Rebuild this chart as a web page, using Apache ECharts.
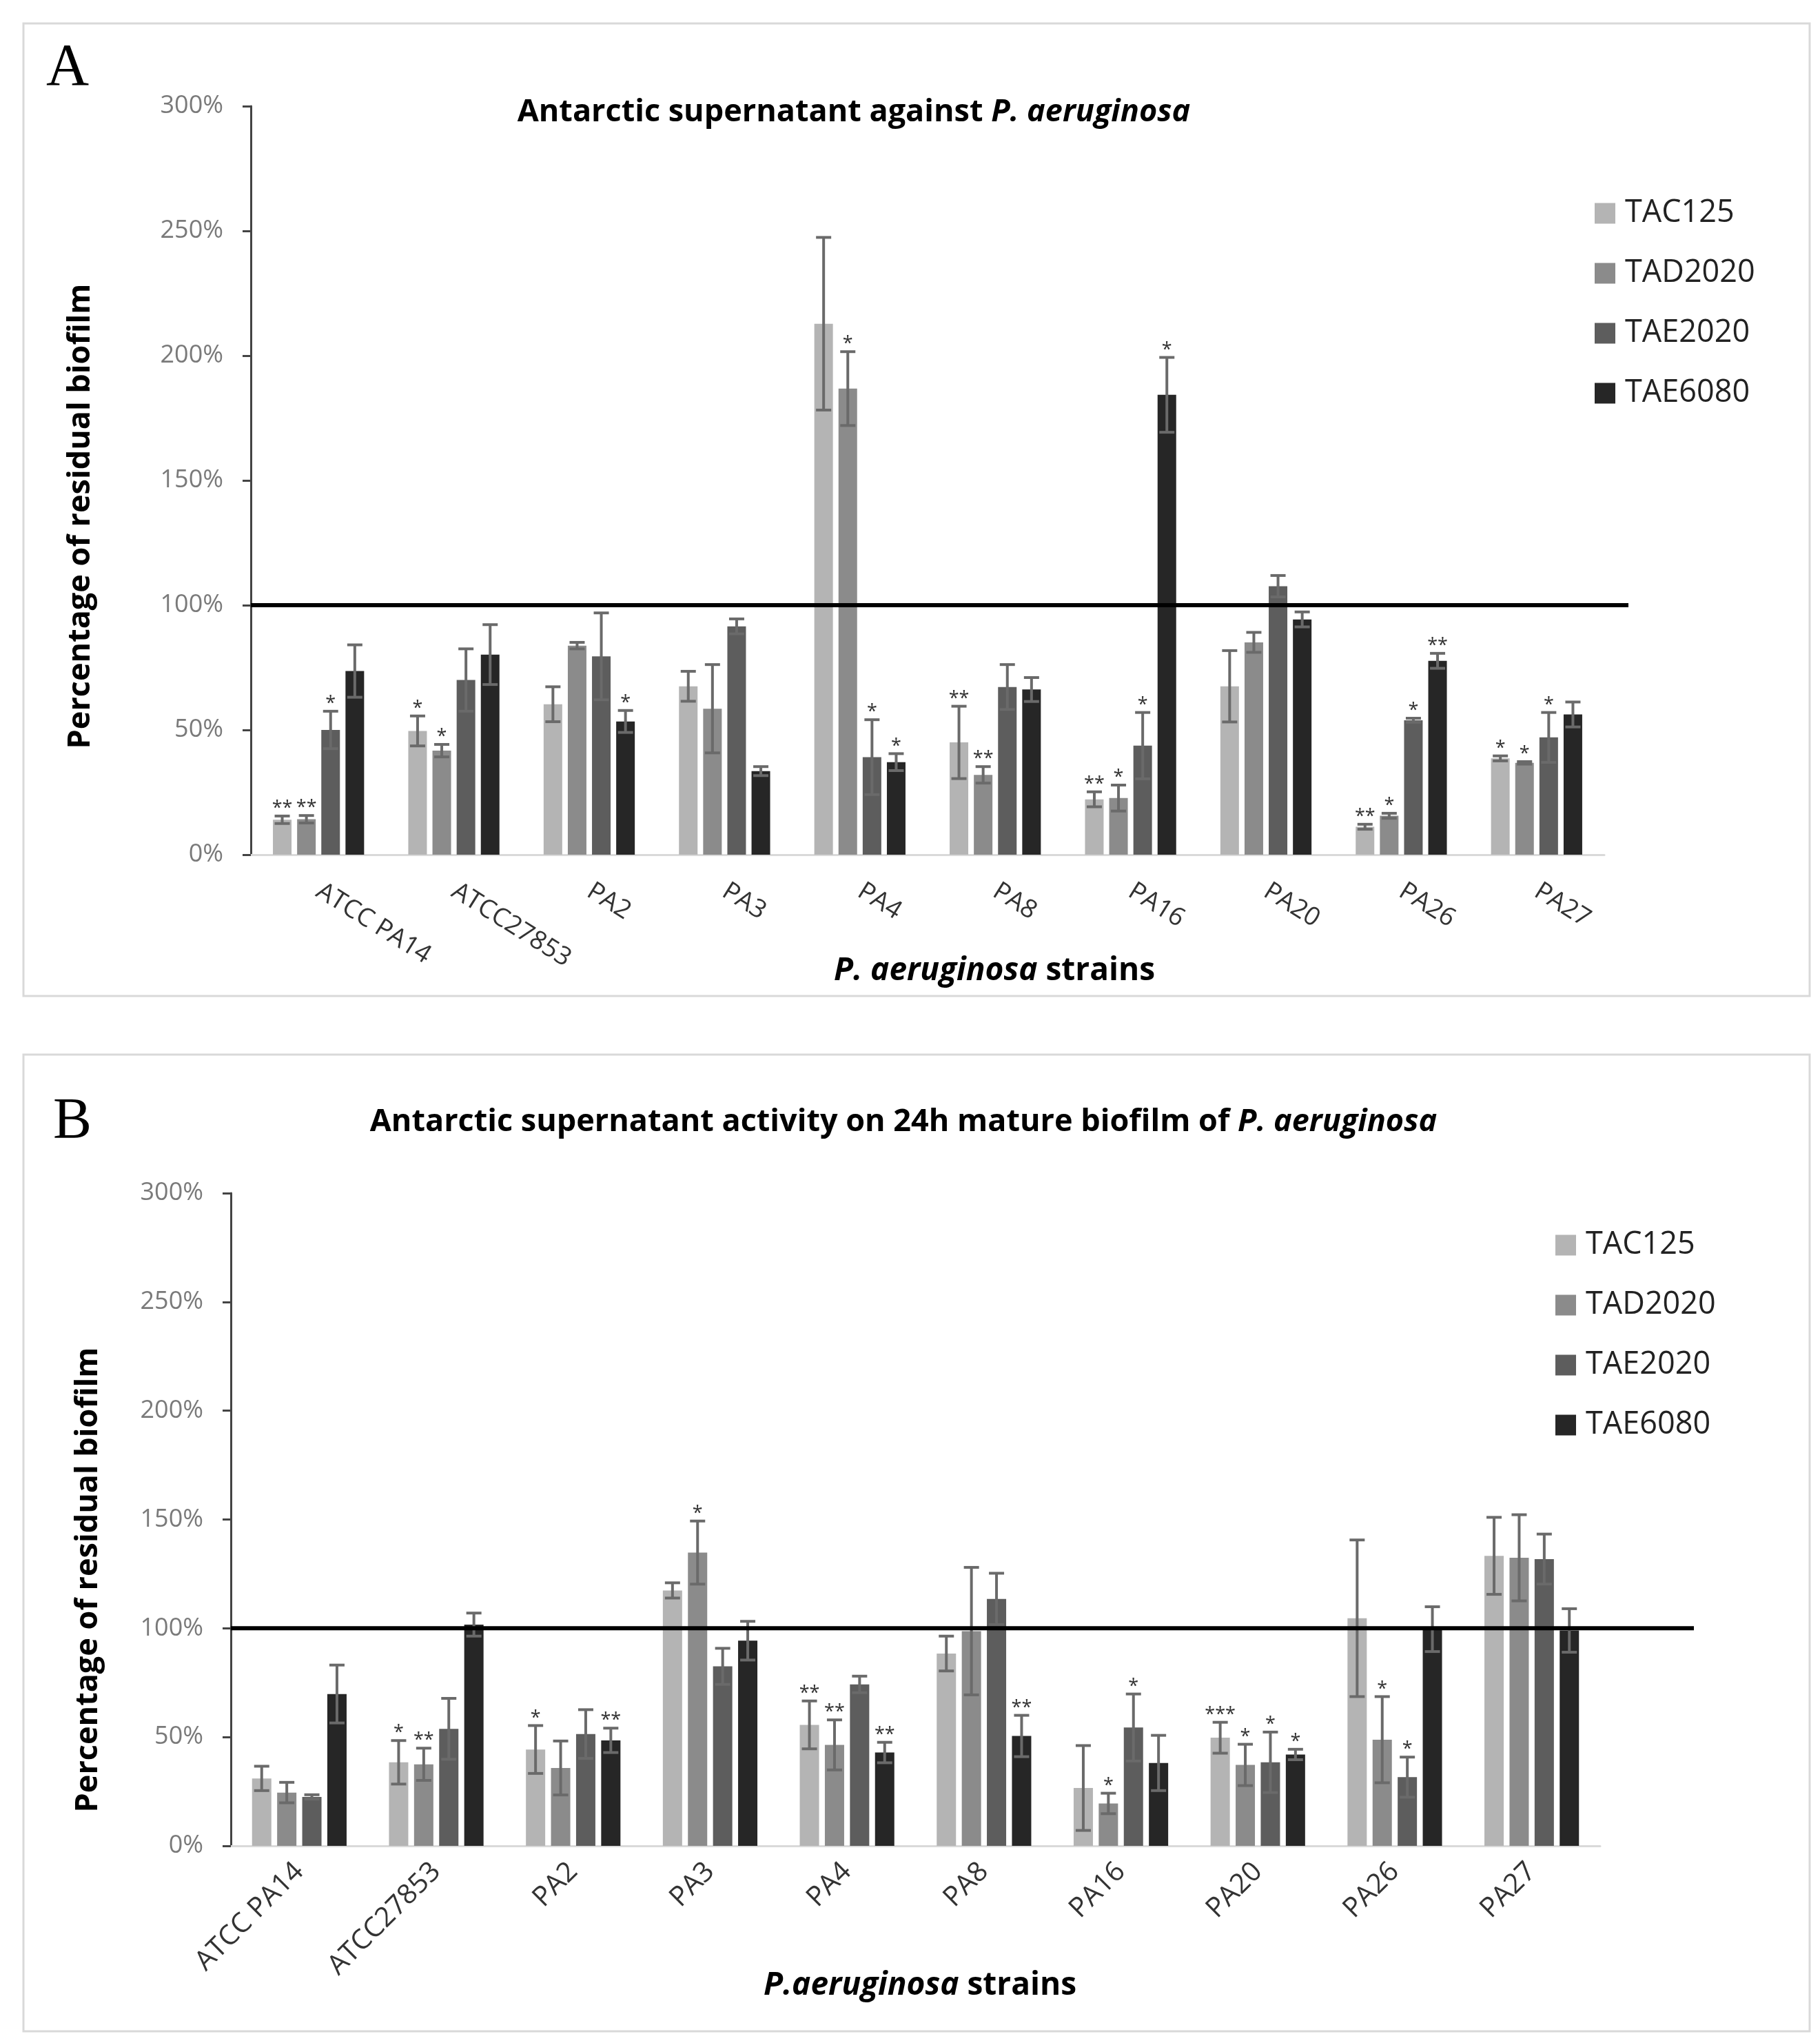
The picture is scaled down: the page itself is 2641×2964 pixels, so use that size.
<!DOCTYPE html>
<html><head><meta charset="utf-8">
<script src="https://cdn.jsdelivr.net/npm/echarts@6/dist/echarts.min.js"></script>
<style>html,body{margin:0;padding:0;background:#fff}#c{width:2641px;height:2964px}</style>
</head><body><div id="c"></div><script>
const categories = ['ATCC PA14','ATCC27853','PA2','PA3','PA4','PA8','PA16','PA20','PA26','PA27'];
const seriesNames = ['TAC125','TAD2020','TAE2020','TAE6080'];
const yTicks = [0,50,100,150,200,250,300];
const refValue = 100;

// Panel A: biofilm formation
const aTAC125    = [14.0, 49.6, 60.3, 67.5, 212.8, 45.0, 22.2, 67.5, 11.2, 38.6];
const aTAC125Err = [1.5, 6.0, 7.0, 6.0, 34.6, 14.5, 3.0, 14.3, 1.0, 1.0];
const aTAC125Sig = ['**','*','','','','**','**','','**','*'];
const aTAD2020    = [14.2, 41.7, 83.8, 58.5, 186.8, 32.0, 22.7, 85.1, 15.6, 36.8];
const aTAD2020Err = [1.5, 2.5, 1.3, 17.7, 14.8, 3.3, 5.2, 4.0, 1.0, 0.5];
const aTAD2020Sig = ['**','*','','','*','**','*','','*','*'];
const aTAE2020    = [50.0, 70.0, 79.5, 91.5, 39.1, 67.2, 43.7, 107.6, 53.9, 47.0];
const aTAE2020Err = [7.5, 12.5, 17.4, 3.0, 15.0, 9.0, 13.3, 4.3, 0.8, 10.0];
const aTAE2020Sig = ['*','','','','*','','*','','*','*'];
const aTAE6080    = [73.6, 80.2, 53.4, 33.5, 37.1, 66.2, 184.3, 94.3, 77.7, 56.2];
const aTAE6080Err = [10.5, 12.0, 4.4, 1.8, 3.4, 4.8, 15.0, 3.0, 3.0, 5.0];
const aTAE6080Sig = ['','','*','','*','','*','','**',''];

// Panel B: mature biofilm
const bTAC125    = [31.0, 38.4, 44.3, 117.4, 55.6, 88.4, 26.6, 49.7, 104.6, 133.3];
const bTAC125Err = [5.6, 10.0, 11.0, 3.5, 11.0, 8.0, 19.5, 7.1, 36.0, 17.7];
const bTAC125Sig = ['','*','*','','**','','','***','',''];
const bTAD2020    = [24.5, 37.5, 35.8, 134.8, 46.4, 98.7, 19.5, 37.2, 48.8, 132.4];
const bTAD2020Err = [4.7, 7.4, 12.4, 14.5, 11.5, 29.3, 4.7, 9.5, 19.8, 19.8];
const bTAD2020Sig = ['','**','','*','**','','*','*','*',''];
const bTAE2020    = [22.5, 53.8, 51.4, 82.5, 74.2, 113.5, 54.4, 38.4, 31.6, 131.8];
const bTAE2020Err = [1.0, 14.0, 11.2, 8.3, 3.8, 11.8, 15.4, 13.9, 9.2, 11.5];
const bTAE2020Sig = ['','','','','','','*','*','*',''];
const bTAE6080    = [69.8, 101.7, 48.5, 94.3, 42.9, 50.5, 38.1, 42.0, 99.6, 99.0];
const bTAE6080Err = [13.3, 5.3, 5.6, 8.9, 4.7, 9.5, 12.7, 2.4, 10.3, 10.0];
const bTAE6080Sig = ['','','**','','**','**','','*','',''];

const panelA = {vals:[aTAC125,aTAD2020,aTAE2020,aTAE6080], errs:[aTAC125Err,aTAD2020Err,aTAE2020Err,aTAE6080Err], sigs:[aTAC125Sig,aTAD2020Sig,aTAE2020Sig,aTAE6080Sig]};
const panelB = {vals:[bTAC125,bTAD2020,bTAE2020,bTAE6080], errs:[bTAC125Err,bTAD2020Err,bTAE2020Err,bTAE6080Err], sigs:[bTAC125Sig,bTAD2020Sig,bTAE2020Sig,bTAE6080Sig]};

const colors = ['#b4b4b4','#8b8b8b','#5d5d5d','#262626'];
const FONT = 'Open Sans';
const errColor = '#6a6a6a';

function buildPanel(p, axisIdx, refAxisIdx, barW) {
  const gap = barW * 0.3;
  const total = 4 * barW + 3 * gap;
  const out = [];
  p.vals.forEach((vals, si) => {
    out.push({
      name: seriesNames[si], type: 'bar', xAxisIndex: axisIdx, yAxisIndex: axisIdx,
      data: vals, barWidth: barW, barGap: '30%',
      itemStyle: {color: colors[si]}, z: 2
    });
  });
  p.vals.forEach((vals, si) => {
    const errs = p.errs[si], sigs = p.sigs[si];
    const offset = -total / 2 + barW / 2 + si * (barW + gap);
    out.push({
      name: 'err' + axisIdx + '_' + si, type: 'custom', xAxisIndex: axisIdx, yAxisIndex: axisIdx, z: 4,
      data: vals.map((v, i) => [i, v, errs[i]]),
      renderItem: function (params, api) {
        const c = api.value(0), v = api.value(1), e = api.value(2);
        const x = api.coord([c, v])[0] + offset;
        const yT = api.coord([c, v + e])[1];
        const yB = api.coord([c, Math.max(0, v - e)])[1];
        const cap = 11;
        const st = {stroke: errColor, lineWidth: 4};
        const ch = [
          {type: 'line', shape: {x1: x, y1: yT, x2: x, y2: yB}, style: st},
          {type: 'line', shape: {x1: x - cap, y1: yT, x2: x + cap, y2: yT}, style: st},
          {type: 'line', shape: {x1: x - cap, y1: yB, x2: x + cap, y2: yB}, style: st}
        ];
        const s = sigs[params.dataIndex];
        if (s) ch.push({type: 'text', style: {text: s, x: x, y: yT + 3, align: 'center', verticalAlign: 'bottom', fontSize: 27, fontFamily: FONT, fill: '#333'}});
        return {type: 'group', children: ch};
      }
    });
  });
  out.push({
    name: 'ref' + axisIdx, type: 'line', xAxisIndex: refAxisIdx, yAxisIndex: refAxisIdx, z: 6,
    data: [[0, refValue], [1, refValue]], symbol: 'none', silent: true,
    lineStyle: {color: '#000', width: 6}
  });
  return out;
}

const catAxis = (gridIndex, rotate, margin, fs) => ({
  type: 'category', gridIndex, data: categories,
  axisLine: {lineStyle: {color: '#d9d9d9', width: 3}},
  axisTick: {show: false},
  axisLabel: {interval: 0, rotate, margin, fontSize: fs, fontFamily: FONT, color: '#333'}
});
const valAxis = (gridIndex) => ({
  type: 'value', gridIndex, min: yTicks[0], max: yTicks[yTicks.length - 1], interval: yTicks[1] - yTicks[0],
  axisLine: {show: true, lineStyle: {color: '#444', width: 3}},
  axisTick: {show: true, length: 12, lineStyle: {color: '#444', width: 3}},
  splitLine: {show: false},
  axisLabel: {formatter: '{value}%', fontSize: 36, fontFamily: FONT, color: '#7a7a7a', margin: 40}
});
const hiddenX = (gridIndex) => ({type: 'value', gridIndex, min: 0, max: 1, show: false});
const hiddenY = (gridIndex) => ({type: 'value', gridIndex, min: yTicks[0], max: yTicks[yTicks.length - 1], show: false});

const legendBase = (left, top) => ({
  data: seriesNames, orient: 'vertical', left, top, icon: 'rect',
  itemWidth: 30, itemHeight: 30, itemGap: 42, selectedMode: false,
  textStyle: {fontSize: 45, fontFamily: FONT, color: '#222', padding: [0, 0, 0, 9]}
});
const boldTitle = (text, left, top, fs) => ({
  text, left, top, textAlign: 'center',
  textStyle: {fontSize: fs, fontWeight: 'bold', fontFamily: FONT, color: '#000',
    rich: {i: {fontSize: fs, fontWeight: 'bold', fontStyle: 'italic', fontFamily: FONT, color: '#000'}}}
});
const yName = (x, y) => ({
  type: 'text', x, y, rotation: Math.PI / 2,
  style: {text: 'Percentage of residual biofilm', align: 'center', verticalAlign: 'middle', fontSize: 45, fontWeight: 'bold', fontFamily: FONT, fill: '#000'}
});

const option = {
  backgroundColor: '#fff',
  animation: false,
  title: [
    {text: 'A', left: 62, top: 52, textStyle: {fontSize: 86, fontFamily: 'Liberation Serif', fontWeight: 'normal', color: '#000'}},
    {text: 'B', left: 72, top: 1582, textStyle: {fontSize: 84, fontFamily: 'Liberation Serif', fontWeight: 'normal', color: '#000'}},
    boldTitle('Antarctic supernatant against {i|P. aeruginosa}', 1234, 136, 45),
    boldTitle('Antarctic supernatant activity on 24h mature biofilm of {i|P. aeruginosa}', 1306, 1601, 45),
    boldTitle('{i|P. aeruginosa} strains', 1438, 1381, 46),
    boldTitle('{i|P.aeruginosa} strains', 1330, 2853, 46)
  ],
  legend: [legendBase(2309, 282), legendBase(2252, 1779)],
  graphic: [
    {type: 'rect', shape: {x: 34, y: 34, width: 2592, height: 1411}, style: {fill: 'none', stroke: '#d9d9d9', lineWidth: 3}, z: -1},
    {type: 'rect', shape: {x: 34, y: 1530, width: 2592, height: 1417}, style: {fill: 'none', stroke: '#d9d9d9', lineWidth: 3}, z: -1},
    yName(117, 749),
    yName(128, 2292)
  ],
  grid: [
    {left: 364, right: 313, top: 154, bottom: 1724},
    {left: 364, right: 278, top: 154, bottom: 1724},
    {left: 335, right: 319, top: 1731, bottom: 286},
    {left: 335, right: 183, top: 1731, bottom: 286}
  ],
  xAxis: [catAxis(0, -32, 50, 37), hiddenX(1), catAxis(2, 45, 31, 40), hiddenX(3)],
  yAxis: [valAxis(0), hiddenY(1), valAxis(2), hiddenY(3)],
  series: [].concat(buildPanel(panelA, 0, 1, 27), buildPanel(panelB, 2, 3, 28))
};
const chart = echarts.init(document.getElementById('c'));
chart.setOption(option);
</script></body></html>
